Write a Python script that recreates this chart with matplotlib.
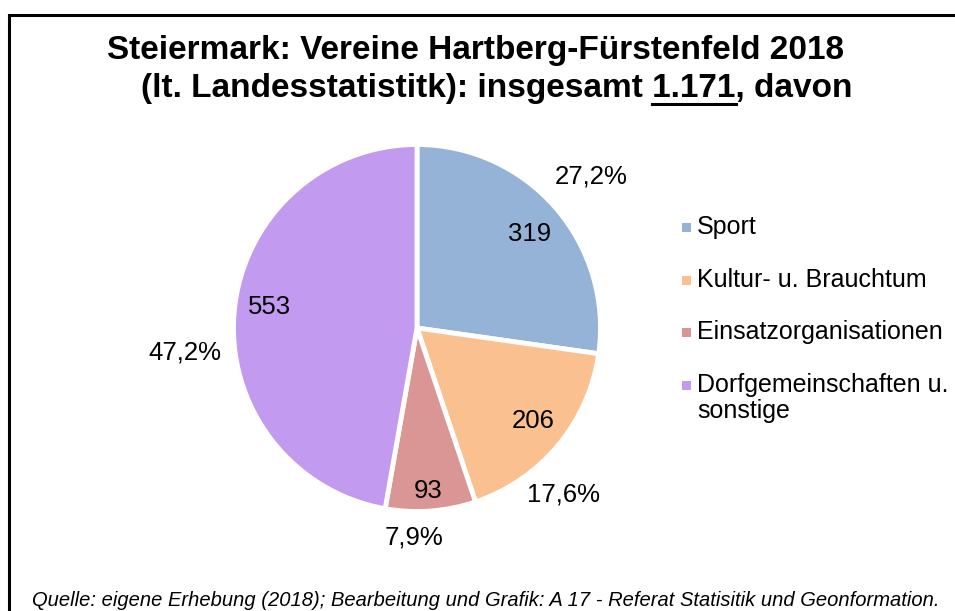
import matplotlib
matplotlib.use("Agg")
import matplotlib.pyplot as plt
import numpy as np
from matplotlib.patches import Rectangle
from matplotlib.lines import Line2D

plt.rcParams['font.family'] = ['Liberation Sans', 'DejaVu Sans']

categories = ["Sport", "Kultur- u. Brauchtum", "Einsatzorganisationen",
              "Dorfgemeinschaften u.\nsonstige"]
values = [319, 206, 93, 553]
colors = ["#95B3D7", "#FAC090", "#D99694", "#C29AF0"]
title_line1 = "Steiermark: Vereine Hartberg-Fürstenfeld 2018"
title_pre = "(lt. Landesstatistitk): insgesamt "
title_total = "1.171"
title_post = ", davon"
source = "Quelle: eigene Erhebung (2018); Bearbeitung und Grafik: A 17 - Referat Statisitik und Geonformation."

# label layout (style): radius factors and angle nudges (deg)
val_r = [0.80, 0.81, 0.89, 0.81]
val_da = [-1, 1, -0.5, -3]
pct_r = [1.26, 1.21, 1.14, 1.27]
pct_da = [0, -9, -5, 11]

W, H = 955, 611
fig = plt.figure(figsize=(W / 100, H / 100), dpi=100)

# frame (extends past right and bottom)
fig.patches.append(Rectangle((9 / W, -0.05), 1.2, (H - 15) / H + 0.05,
                             transform=fig.transFigure, fill=False,
                             edgecolor="black", linewidth=2.2))

cx, cy, r = 417, 328, 183.5
ax = fig.add_axes([(cx - r) / W, (H - cy - r) / H, 2 * r / W, 2 * r / H])
ax.axis("off")

wedges, _ = ax.pie(values, colors=colors, startangle=90, counterclock=False,
                   radius=1.0, wedgeprops=dict(edgecolor="white", linewidth=3.5),
                   frame=False)
ax.set_xlim(-1, 1)
ax.set_ylim(-1, 1)
ax.set_aspect("auto")

FS = 18.5
total = sum(values)
for i, w in enumerate(wedges):
    mid = (w.theta1 + w.theta2) / 2
    a = np.deg2rad(mid + val_da[i])
    ax.text(val_r[i] * np.cos(a), val_r[i] * np.sin(a), str(values[i]),
            ha="center", va="center", fontsize=FS, clip_on=False)
    a2 = np.deg2rad(mid + pct_da[i])
    pct = f"{100 * values[i] / total:.1f}%".replace(".", ",")
    ax.text(pct_r[i] * np.cos(a2), pct_r[i] * np.sin(a2), pct,
            ha="center", va="center", fontsize=FS, clip_on=False)

# legend
leg_y = [227, 280, 332, 385]
for i, lab in enumerate(categories):
    y = leg_y[i]
    fig.patches.append(Rectangle((682 / W, (H - y - 4.5) / H), 8.5 / W, 8.5 / H,
                                 transform=fig.transFigure, facecolor=colors[i],
                                 edgecolor="none"))
    fig.text(697 / W, (H - y + 12) / H, lab, ha="left", va="top",
             fontsize=18, linespacing=1.1)

# title
TFS = 24
fig.text(475 / W, (H - 51) / H, title_line1, ha="center", va="center",
         fontsize=TFS, fontweight="bold")
full2 = title_pre + title_total + title_post
t2 = fig.text(497 / W, (H - 89) / H, full2, ha="center", va="center",
              fontsize=TFS, fontweight="bold")
fig.canvas.draw()
rend = fig.canvas.get_renderer()
bb_full = t2.get_window_extent(rend)
tmp = fig.text(0, 0, title_pre + title_total, fontsize=TFS, fontweight="bold")
w_pt = tmp.get_window_extent(rend).width
tmp.remove()
tmp = fig.text(0, 0, title_total, fontsize=TFS, fontweight="bold")
w_t = tmp.get_window_extent(rend).width
tmp.remove()
x1 = bb_full.x0 + w_pt - w_t
x2 = bb_full.x0 + w_pt
fig.lines.append(Line2D([x1 / W, x2 / W], [(H - 104) / H] * 2,
                        transform=fig.transFigure, color="black", linewidth=2.2))

# source
fig.text(486 / W, (H - 606) / H, source, ha="center", va="baseline",
         fontsize=14.5, style="italic")

fig.savefig("out.png", dpi=100)
